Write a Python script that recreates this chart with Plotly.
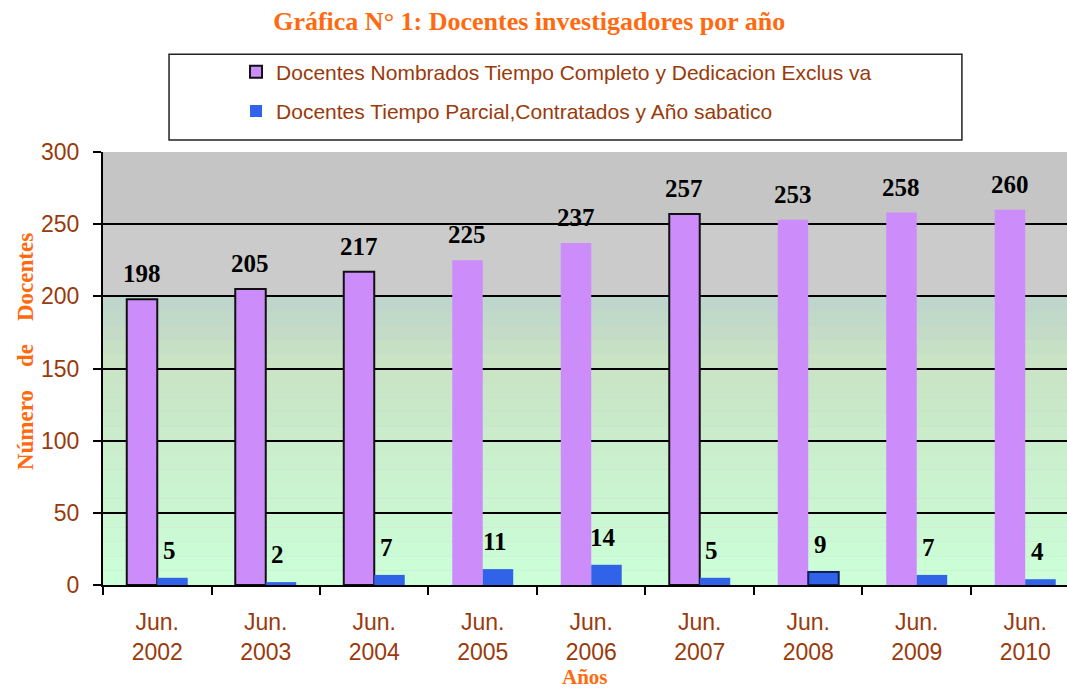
import plotly.graph_objects as go

categories = ["Jun.<br>2002", "Jun.<br>2003", "Jun.<br>2004", "Jun.<br>2005", "Jun.<br>2006",
              "Jun.<br>2007", "Jun.<br>2008", "Jun.<br>2009", "Jun.<br>2010"]
nombrados = [198, 205, 217, 225, 237, 257, 253, 258, 260]
parcial = [5, 2, 7, 11, 14, 5, 9, 7, 4]
series_names = ["Docentes Nombrados Tiempo Completo y Dedicacion Exclus va",
                "Docentes Tiempo Parcial,Contratados y Año sabatico"]
y_ticks = [0, 50, 100, 150, 200, 250, 300]

# style (outlines seen on some bars)
pink_outline = [2, 2, 2, 0, 0, 2, 0, 0, 0]
blue_outline = [0, 0, 0, 0, 0, 0, 2, 0, 0]

BROWN = "#9A3A0C"
ORANGE = "#FF6A10"
PINK = "#CC8CFA"
BLUE = "#3063E8"

fig = go.Figure()
fig.add_trace(go.Bar(x=categories, y=nombrados, name=series_names[0], legendgroup="a",
                     marker=dict(color=PINK, line=dict(color="#111111", width=pink_outline))))
fig.add_trace(go.Bar(x=categories, y=parcial, name=series_names[1], legendgroup="b",
                     marker=dict(color=BLUE, line=dict(color="#10205A", width=blue_outline))))

# value labels
ann = []
for cat, v in zip(categories, nombrados):
    ann.append(dict(x=cat, y=v, xref="x", yref="y", text=str(v), showarrow=False,
                    xshift=-15.5, yshift=10, yanchor="bottom",
                    font=dict(family="Liberation Serif", size=25, color="black", weight="bold")))
for cat, v in zip(categories, parcial):
    ann.append(dict(x=cat, y=v, xref="x", yref="y", text=str(v), showarrow=False,
                    xshift=12, yshift=12, yanchor="bottom",
                    font=dict(family="Liberation Serif", size=25, color="black", weight="bold")))
# axis titles
ann.append(dict(x=0.5, y=-0.212, xref="paper", yref="paper", text="Años", showarrow=False,
                yanchor="middle", font=dict(family="Liberation Serif", size=21, color=ORANGE, weight="bold")))
ann.append(dict(x=-0.081, y=0.54, xref="paper", yref="paper", textangle=-90, showarrow=False,
                text="Número\u00a0\u00a0\u00a0\u00a0de\u00a0\u00a0\u00a0\u00a0Docentes", xanchor="center", yanchor="middle",
                font=dict(family="Liberation Serif", size=23, color=ORANGE, weight="bold")))

# background bands (gray top, green gradient bottom)
shapes = [
    dict(type="rect", xref="x domain", yref="y", x0=0, x1=1, y0=250, y1=300,
         fillcolor="#C5C5C5", line=dict(width=0), layer="below"),
    dict(type="rect", xref="x domain", yref="y", x0=0, x1=1, y0=200, y1=250,
         fillcolor="#CBCBCB", line=dict(width=0), layer="below"),
]
top = (0xBF, 0xD6, 0xCC)
mid = (0xC9, 0xE3, 0xC4)
bot = (0xCC, 0xFF, 0xD8)
nb = 20
for i in range(nb):
    f = i / (nb - 1)
    if f < 0.2:
        g = f / 0.2
        c = tuple(int(top[k] + (mid[k] - top[k]) * g) for k in range(3))
    else:
        g = (f - 0.2) / 0.8
        c = tuple(int(mid[k] + (bot[k] - mid[k]) * g) for k in range(3))
    shapes.append(dict(type="rect", xref="x domain", yref="y", x0=0, x1=1,
                       y0=200 - (i + 1) * 10, y1=200 - i * 10,
                       fillcolor="rgb(%d,%d,%d)" % c, line=dict(width=0), layer="below"))
# legend box
shapes.append(dict(type="rect", xref="paper", yref="paper", x0=0.0685, x1=0.891, y0=1.028, y1=1.226,
                   fillcolor="white", line=dict(color="#222222", width=1.5), layer="above"))

fig.update_layout(
    width=1067, height=690,
    margin=dict(l=103, r=0, t=152, b=105, autoexpand=False),
    paper_bgcolor="white", plot_bgcolor="#CCCCCC",
    barmode="group", bargap=0.438, bargroupgap=0,
    title=dict(text="Gráfica N° 1: Docentes investigadores por año", x=0.496, xref="container",
               y=1 - 21 / 690, yref="container", yanchor="middle", xanchor="center", automargin=False,
               font=dict(family="Liberation Serif", size=26, color=ORANGE, weight="bold")),
    legend=dict(x=0.138, y=1.232, xanchor="left", yanchor="top", bgcolor="rgba(0,0,0,0)",
                borderwidth=0, font=dict(family="Liberation Sans", size=21, color=BROWN),
                tracegroupgap=9, traceorder="grouped"),
    annotations=ann,
    shapes=shapes,
    showlegend=True,
)
fig.update_xaxes(type="category", range=[-0.5, 8.385], tickson="boundaries", ticks="outside",
                 ticklen=8, tickcolor="black", tickwidth=1.5, showline=True, linecolor="black",
                 linewidth=2, showgrid=False, ticklabelstandoff=15, automargin=False,
                 tickfont=dict(family="Liberation Sans", size=23, color=BROWN))
fig.update_yaxes(range=[0, 300], tickvals=y_ticks, ticks="outside", ticklen=8, tickcolor="black",
                 tickwidth=1.5, showline=True, linecolor="black", linewidth=2,
                 showgrid=True, gridcolor="black", gridwidth=2, zeroline=False,
                 ticklabelstandoff=9, automargin=False,
                 tickfont=dict(family="Liberation Sans", size=23, color=BROWN))

fig.write_html("out.html", config={"displayModeBar": False},
               post_script="document.body.style.margin='0px';")
